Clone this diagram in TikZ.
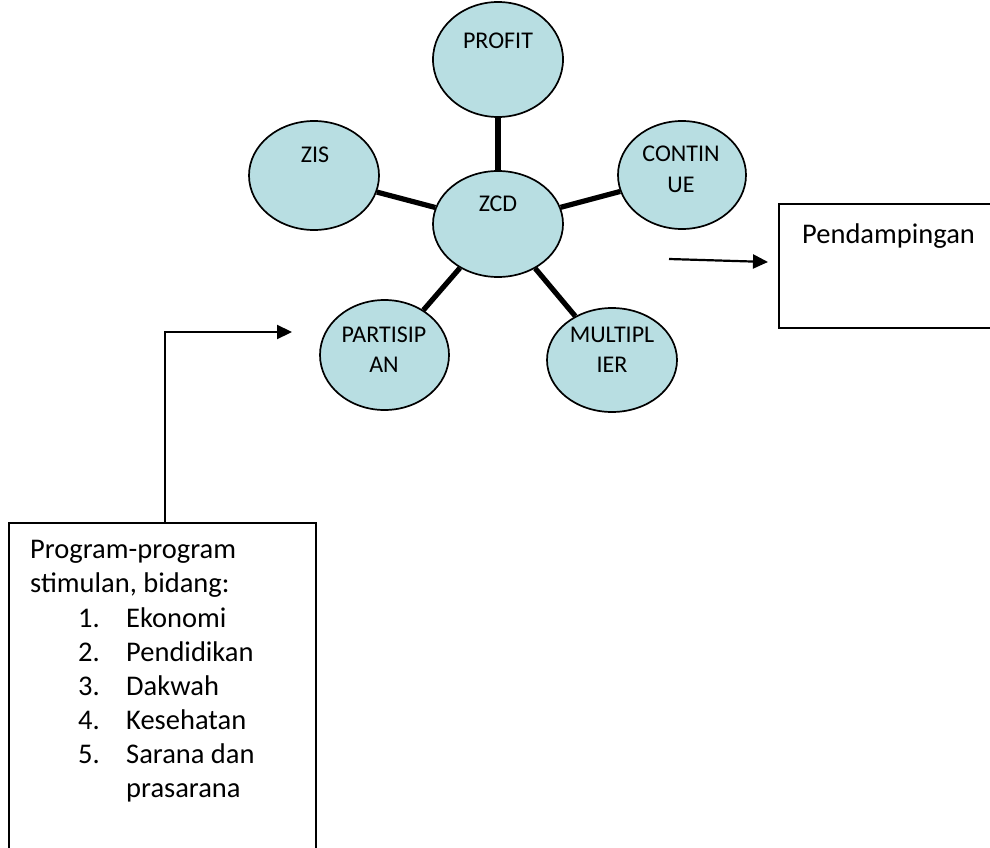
\documentclass[tikz,border=0pt]{standalone}
\usepackage{fontspec}
\setmainfont{Carlito}
\usetikzlibrary{arrows.meta,shapes.geometric}
\definecolor{bub}{RGB}{184,222,226}
\newcommand{\ellfont}{\fontsize{24}{30}\selectfont}
\newcommand{\boxfont}{\fontsize{28.5}{34}\selectfont}
\tikzset{
  bubble/.style={ellipse, draw=black, line width=1.7pt, fill=bub, inner sep=0pt, minimum width=130pt},
  elab/.style={anchor=base, inner sep=0pt, font=\ellfont},
  spoke/.style={line width=5.2pt},
  txtbox/.style={rectangle, draw=black, line width=1.5pt, anchor=north west, inner sep=0pt},
  blab/.style={anchor=base west, inner sep=0pt, font=\boxfont},
  arr/.style={line width=2.2pt, -{Triangle[length=15pt,width=14pt]}}
}
\begin{document}
\begin{tikzpicture}[x=1pt,y=-1pt]
\clip (0,0) rectangle (990,848);
\fill[white] (0,0) rectangle (990,848);
% bubbles
\node[bubble, minimum height=115pt] (profit) at (498,59.5) {};
\node[bubble, minimum height=109pt] (zis) at (314,175.5) {};
\node[bubble, minimum height=106pt] (zcd) at (498,224) {};
\node[bubble, minimum height=108pt, minimum width=128pt] (cont) at (682,175) {};
\node[bubble, minimum height=110pt, minimum width=129pt] (part) at (384.5,355) {};
\node[bubble, minimum height=104pt] (mult) at (612,360) {};
% spokes
\draw[spoke] (profit) -- (zcd);
\draw[spoke] (zis) -- (zcd);
\draw[spoke] (cont) -- (zcd);
\draw[spoke] (part) -- (zcd);
\draw[spoke] (mult) -- (zcd);
% labels
\node[elab] (tprofit) at (498,49) {PROFIT};
\node[elab] (tzis) at (315,162.5) {ZIS};
\node[elab] (tzcd) at (498,211.5) {ZCD};
\node[elab] (tcont1) at (681,161.5) {CONTIN};
\node[elab] (tcont2) at (681,192.5) {UE};
\node[elab] (tpart1) at (384,342.5) {PARTISIP};
\node[elab] (tpart2) at (384,372.5) {AN};
\node[elab] (tmult1) at (612,342.5) {MULTIPL};
\node[elab] (tmult2) at (612,372.5) {IER};
% Pendampingan box
\node[txtbox, minimum width=240pt, minimum height=124pt] (pend) at (778,203) {};
\node[blab] (tpend) at (802,243) {Pendampingan};
\coordinate (pa) at (669,259);
\coordinate (pb) at (768,262);
\draw[arr] (pa) -- (pb);
% Program box
\node[txtbox, minimum width=307pt, minimum height=360pt] (prog) at (8,522) {};
\node[blab] (l1) at (30,558) {Program-program};
\node[blab] (l2) at (30,592.5) {stimulan, bidang:};
\node[blab] (l3) at (78,627) {1.};
\node[blab] (l3b) at (126,627) {Ekonomi};
\node[blab] (l4) at (78,661.5) {2.};
\node[blab] (l4b) at (126,661.5) {Pendidikan};
\node[blab] (l5) at (78,695.5) {3.};
\node[blab] (l5b) at (126,695.5) {Dakwah};
\node[blab] (l6) at (78,729) {4.};
\node[blab] (l6b) at (126,729) {Kesehatan};
\node[blab] (l7) at (78,763) {5.};
\node[blab] (l7b) at (126,763) {Sarana dan};
\node[blab] (l8) at (126,797) {prasarana};
\coordinate (qa) at (37,523);
\coordinate (qb) at (165,523);
\coordinate (qc) at (165,332);
\coordinate (qd) at (292,332);
\draw[arr] (qa) -- (qb) -- (qc) -- (qd);
\end{tikzpicture}
\end{document}
